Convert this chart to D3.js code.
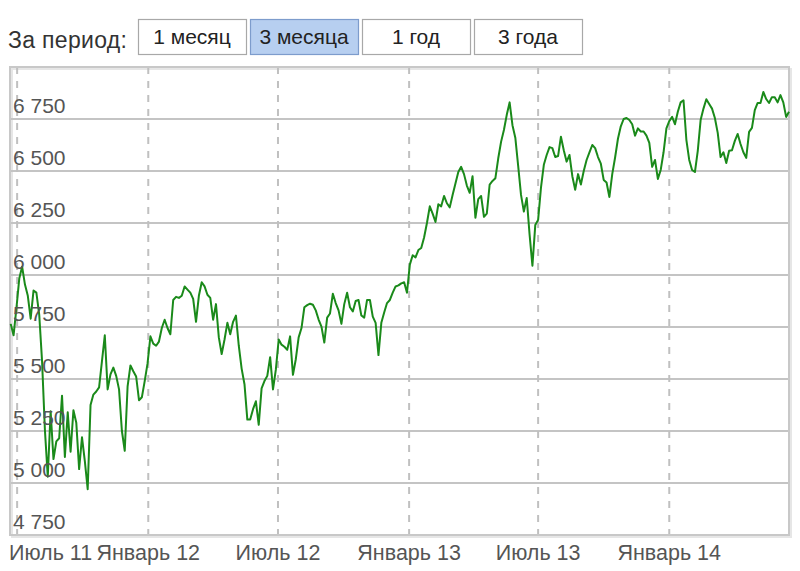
<!DOCTYPE html>
<html><head><meta charset="utf-8">
<script src="https://cdn.jsdelivr.net/npm/d3@7"></script>
<style>body{margin:0;background:#fff} svg{display:block;font-family:"Liberation Sans",Arial,sans-serif}</style>
</head><body><svg id="c" width="800" height="571"></svg>
<script>
const periodLabel = "За период:";
const periodButtons = ["1 месяц", "3 месяца", "1 год", "3 года"];
const selectedButton = "3 месяца";
const startDate = "2011-06-22";
const stepDays = 4;
const values = [
5765,5710,5840,5983,6040,5954,5900,5790,5925,5915,
5810,5585,5254,5030,5345,5115,5200,5215,5420,5125,
5340,5150,5350,5290,5067,5220,5105,4970,5375,5425,
5440,5460,5585,5710,5450,5522,5555,5515,5450,5250,
5155,5465,5565,5537,5512,5398,5412,5490,5575,5705,
5670,5660,5680,5745,5785,5745,5715,5880,5895,5890,
5900,5945,5930,5915,5885,5775,5900,5965,5945,5905,
5890,5785,5860,5700,5620,5690,5770,5715,5775,5805,
5660,5550,5475,5305,5305,5355,5393,5280,5455,5490,
5515,5605,5450,5545,5690,5665,5655,5640,5705,5520,
5595,5700,5745,5845,5855,5862,5857,5830,5786,5752,
5675,5795,5815,5910,5865,5830,5765,5860,5915,5845,
5825,5875,5880,5805,5795,5880,5880,5800,5770,5615,
5770,5820,5865,5880,5915,5945,5950,5960,5965,5915,
6050,6095,6085,6120,6130,6180,6250,6330,6295,6255,
6340,6330,6380,6345,6325,6385,6440,6495,6520,6485,
6430,6395,6475,6275,6365,6380,6280,6295,6435,6452,
6465,6560,6640,6697,6770,6830,6720,6660,6525,6385,
6305,6370,6195,6045,6240,6265,6420,6530,6577,6615,
6610,6567,6572,6665,6600,6545,6577,6475,6410,6485,
6435,6500,6553,6590,6625,6610,6567,6535,6457,6445,
6375,6485,6565,6655,6715,6750,6755,6745,6725,6670,
6705,6690,6690,6670,6635,6520,6553,6462,6505,6590,
6705,6740,6760,6725,6785,6830,6840,6650,6553,6505,
6495,6597,6745,6800,6845,6822,6800,6755,6683,6567,
6590,6538,6597,6600,6645,6678,6630,6590,6563,6688,
6707,6793,6827,6827,6880,6846,6827,6855,6855,6830,
6865,6830,6760,6785
];
const yTicks = [4750, 5000, 5250, 5500, 5750, 6000, 6250, 6500, 6750];
const xTickDates = ["2011-07-01", "2012-01-01", "2012-07-01", "2013-01-01", "2013-07-01", "2014-01-01"];
const xTickLabels = ["Июль 11", "Январь 12", "Июль 12", "Январь 13", "Июль 13", "Январь 14"];
const xDomain = ["2011-06-21", "2014-06-18"];
const yDomain = [4750, 7000];

const parse = d3.utcParse("%Y-%m-%d");
const t0 = parse(startDate);
const data = values.map((v, i) => ({ date: d3.utcDay.offset(t0, i * stepDays), value: v }));

const svg = d3.select("#c");
const L = 10, R = 789, T = 67, B = 535;

const x = d3.scaleUtc().domain(xDomain.map(parse)).range([L, R]);
const y = d3.scaleLinear().domain(yDomain).range([B, T]);

// header
svg.append("text").attr("x", 8).attr("y", 48).attr("font-size", 23).attr("fill", "#333")
  .attr("textLength", 119).text(periodLabel);
const bx = d3.scaleBand().domain(periodButtons).range([138, 582]).paddingInner(4 / 112);
const bg = svg.append("g").selectAll("g").data(periodButtons).join("g")
  .attr("transform", d => `translate(${bx(d)},19)`);
bg.append("rect").attr("x", 0.5).attr("y", 0.5).attr("width", bx.bandwidth()).attr("height", 35)
  .attr("fill", d => d === selectedButton ? "#b7cff0" : "#fff")
  .attr("stroke", d => d === selectedButton ? "#7d9ccc" : "#a8a8a8").attr("stroke-width", 1.2);
bg.append("text").attr("x", bx.bandwidth() / 2).attr("y", 25).attr("text-anchor", "middle")
  .attr("font-size", 21).attr("fill", "#222").text(d => d);

// frame shadow
svg.append("rect").attr("x", L + 2).attr("y", T + 2).attr("width", R - L).attr("height", B - T)
  .attr("fill", "none").attr("stroke", "#e6e6e6").attr("stroke-width", 2);

// horizontal grid
svg.append("g").selectAll("line").data(yTicks).join("line")
  .attr("x1", L).attr("x2", R).attr("y1", d => y(d)).attr("y2", d => y(d))
  .attr("stroke", "#c4c4c4").attr("stroke-width", 2);

// vertical dashed grid
const xt = xTickDates.map(parse);
svg.append("g").selectAll("line").data(xt).join("line")
  .attr("x1", d => x(d)).attr("x2", d => x(d)).attr("y1", T).attr("y2", B + 8)
  .attr("stroke", "#c0c0c0").attr("stroke-width", 2).attr("stroke-dasharray", "7,7");

// frame
svg.append("rect").attr("x", L).attr("y", T).attr("width", R - L).attr("height", B - T)
  .attr("fill", "none").attr("stroke", "#c8c8c8").attr("stroke-width", 2);

// line
const line = d3.line().x(d => x(d.date)).y(d => y(d.value));
svg.append("path").datum(data).attr("d", line).attr("fill", "none")
  .attr("stroke", "#1a8a1a").attr("stroke-width", 2).attr("stroke-linejoin", "round");

// y labels
const fmt = v => d3.format(",")(v).replace(",", " ");
svg.append("g").selectAll("text").data(yTicks).join("text")
  .attr("x", 13).attr("y", d => y(d) - 6).attr("font-size", 21).attr("fill", "#555")
  .text(d => fmt(d));

// x labels
svg.append("g").selectAll("text").data(xt).join("text")
  .attr("x", (d, i) => i === 0 ? 9 : x(d)).attr("y", 560)
  .attr("text-anchor", (d, i) => i === 0 ? "start" : "middle")
  .attr("font-size", 21.5).attr("fill", "#555")
  .text((d, i) => xTickLabels[i]);
</script></body></html>
